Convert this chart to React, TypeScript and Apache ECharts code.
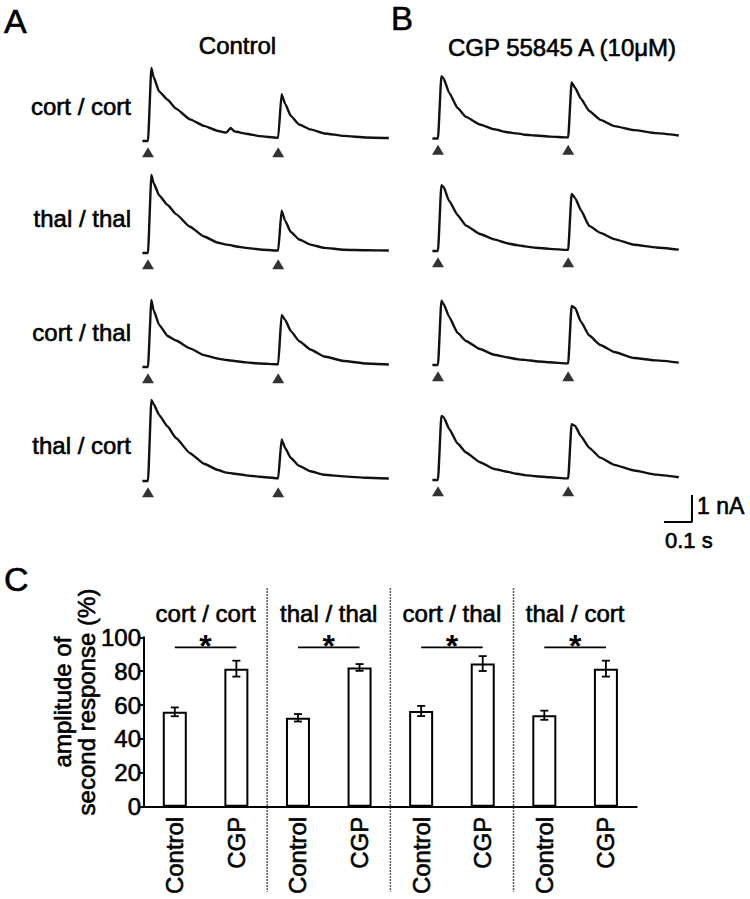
import React, { useEffect, useRef } from "react";
import * as echarts from "echarts";

// ---------------- DATA ----------------
// Sample times of the traces (s, relative to the first stimulus)
const TIME = [-0.02, 0, 0.012, 0.02, 0.04, 0.07, 0.1, 0.15, 0.2, 0.25, 0.28, 0.295, 0.31, 0.35, 0.4, 0.46, 0.465, 0.477, 0.49, 0.51, 0.54, 0.58, 0.63, 0.7, 0.78, 0.86];
const STIM_TIMES = [0, 0.465];
const STIM_MARK_LEVEL = -0.42; // nA, triangle markers below the baseline

const ROW_LABELS = ["cort / cort", "thal / thal", "cort / thal", "thal / cort"];

// Currents (nA) – Control
const ctrlCortCort = [0, 0, 2.71, 2.37, 1.83, 1.53, 1.2, 0.8, 0.56, 0.37, 0.31, 0.48, 0.35, 0.27, 0.18, 0.12, 0.12, 1.73, 1.37, 0.93, 0.61, 0.43, 0.28, 0.19, 0.13, 0.11];
const ctrlThalThal = [0, 0, 2.89, 2.59, 2.13, 1.78, 1.44, 0.97, 0.61, 0.38, 0.31, 0.29, 0.25, 0.19, 0.13, 0.09, 0.09, 1.57, 1.19, 0.78, 0.5, 0.31, 0.19, 0.12, 0.1, 0.09];
const ctrlCortThal = [0, 0, 2.48, 2.1, 1.56, 1.15, 0.98, 0.69, 0.44, 0.31, 0.26, 0.24, 0.22, 0.17, 0.13, 0.1, 0.1, 1.93, 1.74, 1.33, 0.96, 0.65, 0.39, 0.22, 0.13, 0.09];
const ctrlThalCort = [0, 0, 3.0, 2.85, 2.44, 2.02, 1.59, 1.03, 0.64, 0.41, 0.31, 0.29, 0.27, 0.21, 0.16, 0.1, 0.1, 1.54, 1.22, 0.85, 0.56, 0.36, 0.23, 0.17, 0.12, 0.09];
// Currents (nA) – CGP 55845 A
const cgpCortCort = [0, 0, 2.31, 2.22, 1.69, 1.13, 0.8, 0.52, 0.34, 0.23, 0.19, 0.17, 0.14, 0.11, 0.07, 0.04, 0.04, 2.08, 1.87, 1.48, 1.02, 0.69, 0.46, 0.31, 0.2, 0.11];
const cgpThalThal = [0, 0, 2.44, 2.37, 1.85, 1.33, 0.94, 0.63, 0.43, 0.28, 0.22, 0.2, 0.17, 0.12, 0.08, 0.04, 0.04, 2.11, 1.96, 1.52, 0.93, 0.67, 0.44, 0.23, 0.13, 0.05];
const cgpCortThal = [0, 0, 2.38, 2.26, 1.78, 1.19, 0.89, 0.59, 0.38, 0.28, 0.22, 0.2, 0.19, 0.14, 0.1, 0.06, 0.06, 2.19, 2.11, 1.61, 1.09, 0.74, 0.48, 0.26, 0.17, 0.09];
const cgpThalCort = [0, 0, 2.37, 2.33, 1.89, 1.35, 1.02, 0.66, 0.41, 0.3, 0.23, 0.21, 0.18, 0.14, 0.1, 0.06, 0.06, 2.07, 2.0, 1.63, 1.19, 0.83, 0.56, 0.35, 0.2, 0.1];

const CONTROL_TRACES = [ctrlCortCort, ctrlThalThal, ctrlCortThal, ctrlThalCort];
const CGP_TRACES = [cgpCortCort, cgpThalThal, cgpCortThal, cgpThalCort];

// Scale bar lengths
const SCALE_TIME = 0.1; // s
const SCALE_CURRENT = 1; // nA

// Panel C
const BAR_GROUPS = ["cort / cort", "thal / thal", "cort / thal", "thal / cort"];
const BAR_CONDITIONS = ["Control", "CGP"];
const CONTROL_MEAN = [56, 52.5, 56.5, 54];
const CONTROL_SEM = [2.6, 2.2, 3.0, 2.7];
const CGP_MEAN = [81.5, 82.2, 84.5, 81.5];
const CGP_SEM = [4.7, 2.0, 4.4, 4.7];
const SIG_LEVEL = 94;
const Y_MIN = 0;
const Y_MAX = 100;
const Y_INTERVAL = 20;

// ---------------- LAYOUT ----------------
const FONT = '"Liberation Sans", Arial, Helvetica, sans-serif';
const PX_PER_S = 280;
const PX_PER_NA = 27;
const T_MIN = -0.02;
const T_MAX = 1.0;
const I_MIN = -1.7;
const I_MAX = 3.2;
const COL_STIM_X = [148, 438];
const ROW_BASE = [
  [141, 253, 367, 481],
  [138.5, 251, 365, 480],
];
const SCALE_CORNER = [0.907, -1.556];
const TEXT_STROKE = 0.6;

function txt(text: string, x: number, y: number, size: number, align = "left", vAlign = "middle", extra: any = {}) {
  return {
    type: "text",
    x,
    y,
    ...extra,
    style: {
      text,
      fontSize: size,
      fontFamily: FONT,
      fill: "#000",
      stroke: "#000",
      lineWidth: TEXT_STROKE,
      align,
      verticalAlign: vAlign,
      textAlign: align,
      textVerticalAlign: vAlign,
      lineHeight: size,
    },
  };
}

const axisLabelStyle = {
  fontSize: 24,
  fontFamily: FONT,
  color: "#000",
  textBorderColor: "#000",
  textBorderWidth: TEXT_STROKE,
};

export default function App() {
  const ref = useRef<HTMLDivElement>(null);

  useEffect(() => {
    if (!ref.current) return;
    const chart = echarts.init(ref.current, null, { renderer: "svg" });

    const grids: any[] = [];
    const xAxes: any[] = [];
    const yAxes: any[] = [];
    const series: any[] = [];

    const columns = [CONTROL_TRACES, CGP_TRACES];
    columns.forEach((traces, c) => {
      traces.forEach((trace, r) => {
        const g = grids.length;
        const base = ROW_BASE[c][r];
        grids.push({
          left: COL_STIM_X[c] + T_MIN * PX_PER_S,
          top: base - I_MAX * PX_PER_NA,
          width: (T_MAX - T_MIN) * PX_PER_S,
          height: (I_MAX - I_MIN) * PX_PER_NA,
        });
        xAxes.push({ gridIndex: g, type: "value", min: T_MIN, max: T_MAX, show: false });
        yAxes.push({ gridIndex: g, type: "value", min: I_MIN, max: I_MAX, show: false });
        series.push({
          type: "line",
          xAxisIndex: g,
          yAxisIndex: g,
          data: TIME.map((t, k) => [t, trace[k]]),
          showSymbol: false,
          symbol: "none",
          smooth: 0.15,
          smoothMonotone: "x",
          lineStyle: { color: "#111", width: 2.4, join: "round" },
          silent: true,
        });
        series.push({
          type: "scatter",
          xAxisIndex: g,
          yAxisIndex: g,
          data: STIM_TIMES.map((t) => [t, STIM_MARK_LEVEL]),
          symbol: "triangle",
          symbolSize: [12, 10],
          itemStyle: { color: "#000" },
          silent: true,
        });
      });
    });

    // scale bar in last trace grid (B, row 4)
    const sbGrid = grids.length - 1;
    series.push({
      type: "line",
      xAxisIndex: sbGrid,
      yAxisIndex: sbGrid,
      data: [
        [SCALE_CORNER[0] - SCALE_TIME, SCALE_CORNER[1]],
        [SCALE_CORNER[0], SCALE_CORNER[1]],
        [SCALE_CORNER[0], SCALE_CORNER[1] + SCALE_CURRENT],
      ],
      showSymbol: false,
      symbol: "none",
      lineStyle: { color: "#000", width: 2 },
      silent: true,
    });

    // ------------- Panel C -------------
    const bg = grids.length;
    grids.push({ left: 144, right: 113.3, top: 637.3, height: 169.4 });
    const categories: string[] = [];
    const barValues: number[] = [];
    const errData: number[][] = [];
    BAR_GROUPS.forEach((_, i) => {
      categories.push(BAR_CONDITIONS[0], BAR_CONDITIONS[1]);
      barValues.push(CONTROL_MEAN[i], CGP_MEAN[i]);
      errData.push([2 * i, CONTROL_MEAN[i], CONTROL_SEM[i]]);
      errData.push([2 * i + 1, CGP_MEAN[i], CGP_SEM[i]]);
    });
    const xCat = xAxes.length;
    xAxes.push({
      gridIndex: bg,
      type: "category",
      data: categories,
      axisLine: { show: true, lineStyle: { color: "#000", width: 2 } },
      axisTick: { show: false },
      axisLabel: { ...axisLabelStyle, rotate: 90, margin: 10, interval: 0 },
      splitLine: { show: false },
    });
    xAxes.push({
      gridIndex: bg,
      type: "category",
      position: "top",
      data: BAR_GROUPS,
      axisLine: { show: false },
      axisTick: { show: false },
      axisLabel: { ...axisLabelStyle, margin: 12, interval: 0 },
      splitLine: { show: false },
    });
    const yBar = yAxes.length;
    yAxes.push({
      gridIndex: bg,
      type: "value",
      min: Y_MIN,
      max: Y_MAX,
      interval: Y_INTERVAL,
      axisLine: { show: true, lineStyle: { color: "#000", width: 2 } },
      axisTick: { show: true, length: 4, lineStyle: { color: "#000", width: 2 } },
      axisLabel: { ...axisLabelStyle, margin: 3 },
      splitLine: { show: false },
    });

    series.push({
      type: "bar",
      xAxisIndex: xCat,
      yAxisIndex: yBar,
      data: barValues,
      barWidth: 24,
      itemStyle: { color: "#fff", borderColor: "#000", borderWidth: 2 },
      silent: true,
      z: 2,
    });

    series.push({
      type: "custom",
      xAxisIndex: xCat,
      yAxisIndex: yBar,
      data: errData,
      clip: false,
      silent: true,
      z: 3,
      encode: { x: 0, y: 1 },
      renderItem: (params: any, api: any) => {
        const k = api.value(0);
        const m = api.value(1);
        const s = api.value(2);
        const top = api.coord([k, m + s]);
        const bot = api.coord([k, m - s]);
        const cw = 4;
        const st = { stroke: "#000", lineWidth: 1.8 };
        return {
          type: "group",
          children: [
            { type: "line", shape: { x1: top[0], y1: top[1], x2: bot[0], y2: bot[1] }, style: st },
            { type: "line", shape: { x1: top[0] - cw, y1: top[1], x2: top[0] + cw, y2: top[1] }, style: st },
            { type: "line", shape: { x1: bot[0] - cw, y1: bot[1], x2: bot[0] + cw, y2: bot[1] }, style: st },
          ],
        };
      },
    });

    series.push({
      type: "custom",
      xAxisIndex: xCat,
      yAxisIndex: yBar,
      data: BAR_GROUPS.map((_, i) => [2 * i, 2 * i + 1, SIG_LEVEL]),
      clip: false,
      silent: true,
      encode: { x: [0, 1], y: 2 },
      renderItem: (params: any, api: any) => {
        const a = api.coord([api.value(0), api.value(2)]);
        const b = api.coord([api.value(1), api.value(2)]);
        return {
          type: "group",
          children: [
            { type: "line", shape: { x1: a[0], y1: a[1], x2: b[0], y2: b[1] }, style: { stroke: "#000", lineWidth: 1.8 } },
            {
              type: "text",
              x: (a[0] + b[0]) / 2,
              y: a[1] - 1,
              style: {
                text: "*",
                fontSize: 32,
                fontWeight: "bold",
                fontFamily: FONT,
                fill: "#000",
                align: "center",
                verticalAlign: "middle",
                textAlign: "center",
                textVerticalAlign: "middle",
              },
            },
          ],
        };
      },
    });

    series.push({
      type: "custom",
      xAxisIndex: xCat,
      yAxisIndex: yBar,
      data: BAR_GROUPS.slice(1).map((_, i) => [2 * (i + 1) - 1, 0]),
      clip: false,
      silent: true,
      encode: { x: 0, y: 1 },
      renderItem: (params: any, api: any) => {
        const k = api.value(0);
        const p1 = api.coord([k, Y_MIN]);
        const p2 = api.coord([k + 1, Y_MIN]);
        const ptop = api.coord([k, Y_MAX]);
        const x = (p1[0] + p2[0]) / 2;
        return {
          type: "line",
          shape: { x1: x, y1: ptop[1] - 49, x2: x, y2: p1[1] + 85 },
          style: { stroke: "#222", lineWidth: 1.5, lineDash: [1.5, 1.5] },
        };
      },
    });

    const graphic: any[] = [
      txt("A", 4, 21, 34),
      txt("B", 391, 18, 33),
      txt("C", 4, 579, 34),
      txt("Control", 237.5, 45, 24, "center"),
      txt("CGP 55845 A (10\u03bcM)", 562, 47, 24, "center"),
      txt("1 nA", 697, 506, 23),
      txt("0.1 s", 665, 540, 22),
      txt("amplitude of\nsecond response (%)", 74, 702, 24, "center", "middle", { rotation: Math.PI / 2 }),
    ];
    const rowLabelY = [106, 218, 332, 445];
    ROW_LABELS.forEach((lab, r) => graphic.push(txt(lab, 131, rowLabelY[r], 24, "right")));

    chart.setOption({
      animation: false,
      backgroundColor: "#fff",
      textStyle: { fontFamily: FONT },
      grid: grids,
      xAxis: xAxes,
      yAxis: yAxes,
      series,
      graphic,
    });

    return () => chart.dispose();
  }, []);

  return <div ref={ref} style={{ position: "absolute", left: 0, top: 0, width: 750, height: 899 }} />;
}
